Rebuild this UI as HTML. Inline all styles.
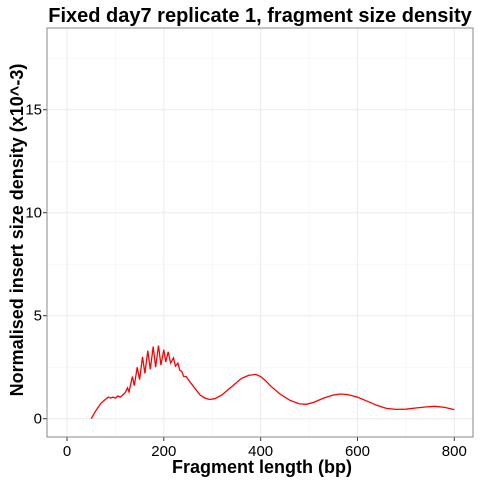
<!DOCTYPE html>
<html><head><meta charset="utf-8"><style>
html,body{margin:0;padding:0;background:#fff;}
svg{display:block;font-family:"Liberation Sans",sans-serif;}
</style></head><body>
<svg id="chart" width="480" height="480">
<text x="260" y="22" text-anchor="middle" font-size="20" font-weight="bold">Fixed day7 replicate 1, fragment size density</text>
<g id="grid"></g>
<g id="axes"></g>
<path id="line" fill="none" stroke="#ff0000" stroke-width="1.3"></path>
<rect x="47" y="28" width="426" height="409" fill="none" stroke="#888" stroke-width="1"></rect>
<text x="262" y="473" text-anchor="middle" font-size="18" font-weight="bold">Fragment length (bp)</text>
<text transform="translate(23,230) rotate(-90)" text-anchor="middle" font-size="18" font-weight="bold">Normalised insert size density (x10^-3)</text>
</svg>
<script>
const fragLengths=[50,60,70,80,85,90,95,100,105,110,115,120,125,128,135,139,145,150,156,161,167,172,178,183,189,194,200,204,209,214,220,224,229,233,237,241,246,255,265,275,285,295,305,320,340,360,375,390,400,410,420,440,460,480,495,510,530,550,565,580,600,620,640,660,680,700,720,740,760,780,800];
const densities=[0.0,0.4,0.75,0.95,1.05,1.0,1.05,1.0,1.1,1.05,1.15,1.25,1.5,1.3,2.05,1.6,2.5,1.9,3.0,2.2,3.3,2.4,3.5,2.5,3.55,2.6,3.35,2.75,3.25,2.7,2.95,2.55,2.7,2.35,2.3,2.05,2.05,1.75,1.45,1.15,1.0,0.93,0.97,1.15,1.55,1.95,2.1,2.15,2.05,1.85,1.6,1.2,0.9,0.72,0.7,0.8,1.0,1.15,1.2,1.17,1.05,0.85,0.65,0.5,0.45,0.46,0.52,0.57,0.6,0.55,0.44];
const xTicks=[0,200,400,600,800];
const yTicks=[0,5,10,15];
const xMinor=[100,300,500,700];
const yMinor=[2.5,7.5,12.5,17.5];
const X=v=>67+v*(454.3-67)/800;
const Y=v=>418.7-v*20.6;
const NS='http://www.w3.org/2000/svg';
const grid=document.getElementById('grid'),axes=document.getElementById('axes');
function ln(p,x1,y1,x2,y2,c,w){const l=document.createElementNS(NS,'line');l.setAttribute('x1',x1);l.setAttribute('y1',y1);l.setAttribute('x2',x2);l.setAttribute('y2',y2);l.setAttribute('stroke',c);l.setAttribute('stroke-width',w);p.appendChild(l);return l;}
function tx(p,x,y,s,a){const t=document.createElementNS(NS,'text');t.setAttribute('x',x);t.setAttribute('y',y);t.setAttribute('font-size','15');t.setAttribute('text-anchor',a);t.textContent=s;p.appendChild(t);return t;}
xMinor.forEach(v=>{const l=ln(grid,X(v),28,X(v),437,'#f3f3f3',0.6);

});
yMinor.forEach(v=>{const l=ln(grid,47,Y(v),473,Y(v),'#f3f3f3',0.6);

});
xTicks.forEach(v=>{const l=ln(grid,X(v),28,X(v),437,'#ebebeb',1);


const k=ln(axes,X(v),437,X(v),441,'#333',1);


const t=tx(axes,X(v),456,String(v),'middle');

});
yTicks.forEach(v=>{const l=ln(grid,47,Y(v),473,Y(v),'#ebebeb',1);


const k=ln(axes,43,Y(v),47,Y(v),'#333',1);


const t=tx(axes,42,Y(v)+5,String(v),'end');

});
document.getElementById('line').setAttribute('d',fragLengths.map((b,i)=>(i?'L':'M')+X(b).toFixed(1)+','+Y(densities[i]).toFixed(1)).join(''));
</script>
</body></html>
